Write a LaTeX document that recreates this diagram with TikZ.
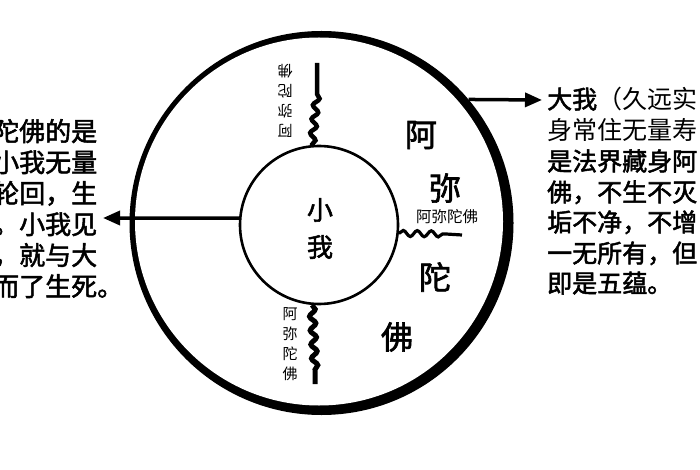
\documentclass[tikz,border=0pt]{standalone}
\usepackage{fontspec}
\newfontfamily\cjk{Noto Sans CJK SC}[AutoFakeBold=2]
\usetikzlibrary{arrows.meta,decorations.pathmorphing}
\begin{document}
\begin{tikzpicture}[x=1pt,y=-1pt,
  lefttxt/.style={anchor=west, inner sep=0pt, text height=23pt, text depth=3pt,
    font=\cjk\bfseries\fontsize{26}{26}\selectfont},
  righttxt/.style={anchor=west, inner sep=0pt, text height=22pt, text depth=3pt,
    font=\cjk\fontsize{25}{25}\selectfont},
  bigchar/.style={inner sep=0pt, font=\cjk\bfseries\fontsize{32}{32}\selectfont},
  midchar/.style={inner sep=0pt, font=\cjk\bfseries\fontsize{26}{26}\selectfont},
  smalltxt/.style={inner sep=0pt, align=center, font=\cjk\fontsize{15}{20}\selectfont},
  arr/.style={line width=3.5pt, -{Triangle[length=17pt,width=14pt]}},
  wav/.style={decoration={snake, amplitude=3pt, segment length=14pt}}
]
\useasboundingbox (0,0) rectangle (700,470);
\clip (0,0) rectangle (700,470);
\fill[white] (0,0) rectangle (700,470);

% outer ring (thicker at right and bottom)
\node[circle, minimum size=384pt, inner sep=0pt, fill=black] (outer) at (321.5,223) {};
\node[circle, minimum size=368pt, inner sep=0pt, fill=white] (hole) at (319,221.5) {};

% inner circle
\node[circle, draw, line width=2.6pt, minimum size=158pt, inner sep=0pt] (inner) at (319,225) {};
\node[midchar] (xiao) at (320,210) {小};
\node[midchar] (wo) at (320,247) {我};

% big characters
\node[bigchar] (a1) at (421,135) {阿};
\node[bigchar] (a2) at (445,188) {弥};
\node[bigchar] (a3) at (435,277) {陀};
\node[bigchar] (a4) at (397,337) {佛};

% wavy lines
\coordinate (t1) at (317,63);
\coordinate (t2) at (317,94);
\draw[line width=4.5pt] (t1) -- (t2) decorate[wav]{-- (inner.95)};

\coordinate (r1) at (446,234);
\coordinate (r2) at (462,235);
\draw[line width=3.2pt] (inner.354) decorate[wav]{-- (r1)} -- (r2);

\coordinate (b1) at (315,370);
\coordinate (b2) at (315,384);
\draw[line width=5pt] (inner.265) decorate[wav]{-- (b1)} -- (b2);

% small labels
\node[smalltxt, rotate=180] (lt) at (285,101) {阿\\弥\\陀\\佛};
\node[smalltxt] (lb) at (290,344) {阿\\弥\\陀\\佛};
\node[inner sep=0pt, font=\cjk\fontsize{15.5}{15.5}\selectfont] (lr) at (447,217) {阿弥陀佛};

% arrows
\coordinate (ltip) at (103,218);
\draw[arr] (inner.175) -- (ltip);
\coordinate (rtip) at (542,100);
\draw[arr] (outer.40) -- (rtip);

% left text (cut off at the image edge, as in the reference)
\node[lefttxt] (l1) at (-7,131) {陀佛的是};
\node[lefttxt] (l2) at (-7,162) {小我无量};
\node[lefttxt] (l3) at (-7,193) {轮回，生};
\node[lefttxt] (l4) at (-7,224) {。小我见};
\node[lefttxt] (l5) at (-7,255) {，就与大};
\node[lefttxt] (l6) at (-7,286) {而了生死。};

% right text
\node[righttxt] (r1t) at (547,99) {{\bfseries 大我}（久远实};
\node[righttxt] (r2t) at (547,130) {身常住无量寿};
\node[righttxt] (r3t) at (547,161) {\bfseries 是法界藏身阿};
\node[righttxt] (r4t) at (547,192) {\bfseries 佛，不生不灭};
\node[righttxt] (r5t) at (547,222) {\bfseries 垢不净，不增};
\node[righttxt] (r6t) at (547,253) {\bfseries 一无所有，但};
\node[righttxt] (r7t) at (547,283) {\bfseries 即是五蕴。};
\end{tikzpicture}
\end{document}
